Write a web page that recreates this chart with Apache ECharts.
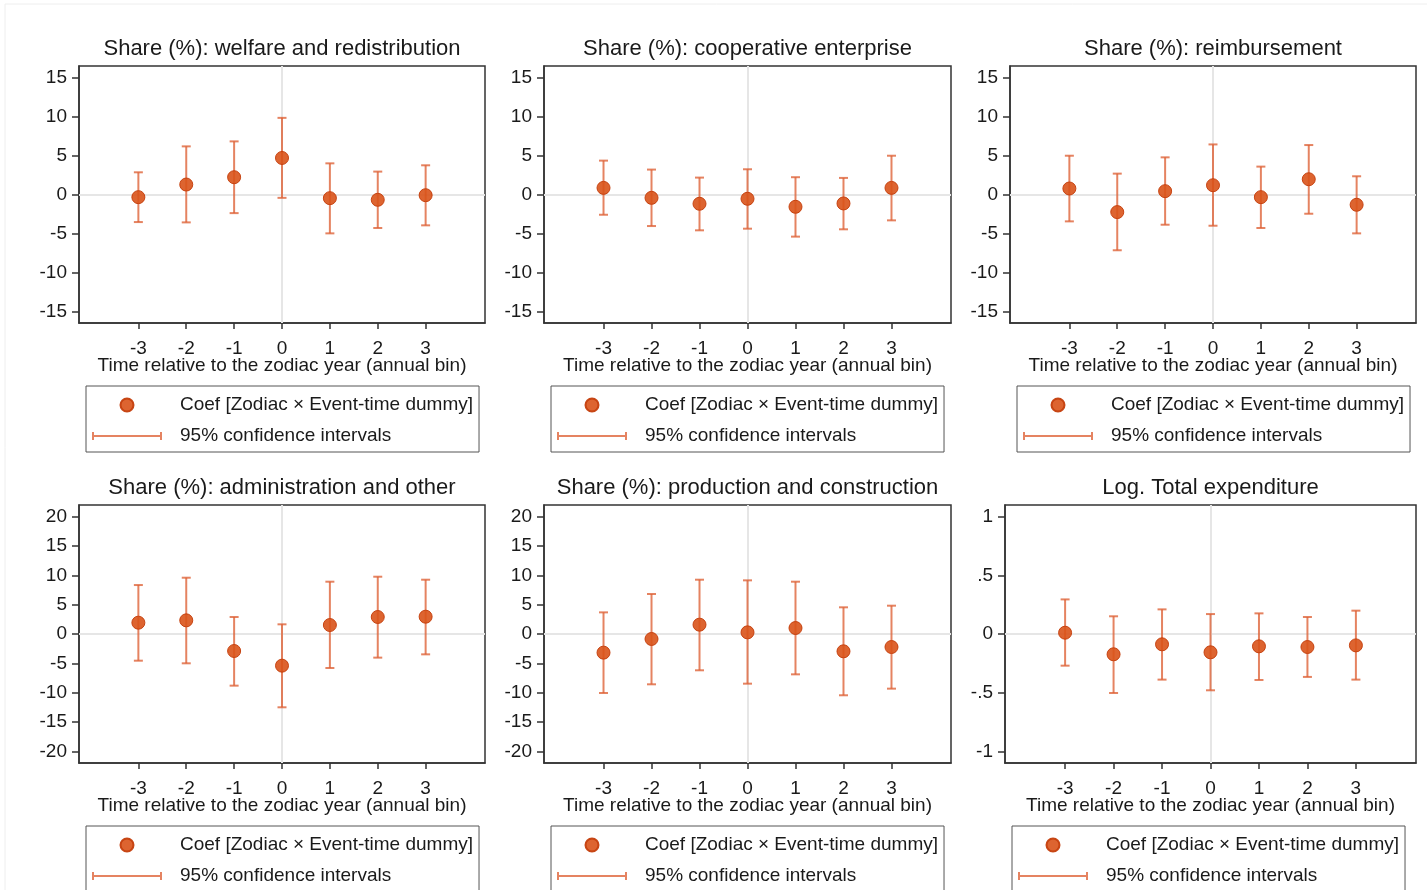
<!DOCTYPE html>
<html>
<head>
<meta charset="utf-8">
<title>Event-study coefficients by spending category</title>
<script src="https://cdn.jsdelivr.net/npm/echarts@6/dist/echarts.min.js"></script>
<style>
  html, body { margin: 0; padding: 0; background: #ffffff; }
  #chart { width: 1427px; height: 890px; }
</style>
</head>
<body>
<div id="chart"></div>
<script>
// Event time (years relative to the zodiac year)
const eventTimes = [-3, -2, -1, 0, 1, 2, 3];

// Panel titles
const panelTitles = [
  'Share (%): welfare and redistribution',
  'Share (%): cooperative enterprise',
  'Share (%): reimbursement',
  'Share (%): administration and other',
  'Share (%): production and construction',
  'Log. Total expenditure'
];

// Point estimates and 95% confidence bounds, one triple of arrays per panel
const welfareCoef  = [-0.34, 1.28, 2.22, 4.69, -0.47, -0.68, -0.09];
const welfareLower = [-3.54, -3.58, -2.39, -0.43, -4.99, -4.30, -3.96];
const welfareUpper = [2.85, 6.18, 6.82, 9.84, 4.00, 2.94, 3.75];

const cooperativeCoef  = [0.85, -0.43, -1.19, -0.55, -1.58, -1.15, 0.85];
const cooperativeLower = [-2.60, -4.05, -4.60, -4.39, -5.41, -4.47, -3.32];
const cooperativeUpper = [4.35, 3.20, 2.17, 3.24, 2.22, 2.13, 4.98];

const reimburseCoef  = [0.77, -2.26, 0.43, 1.19, -0.34, 1.96, -1.32];
const reimburseLower = [-3.45, -7.16, -3.88, -4.01, -4.30, -2.47, -4.99];
const reimburseUpper = [4.98, 2.68, 4.77, 6.43, 3.58, 6.35, 2.34];

const adminCoef  = [1.93, 2.33, -2.90, -5.40, 1.53, 2.90, 2.95];
const adminLower = [-4.55, -5.00, -8.81, -12.50, -5.80, -4.03, -3.47];
const adminUpper = [8.35, 9.60, 2.90, 1.65, 8.92, 9.77, 9.26];

const productionCoef  = [-3.18, -0.85, 1.59, 0.28, 1.02, -2.95, -2.22];
const productionLower = [-10.06, -8.58, -6.19, -8.47, -6.88, -10.45, -9.32];
const productionUpper = [3.69, 6.82, 9.26, 9.15, 8.92, 4.55, 4.83];

const logTotalCoef  = [0.011, -0.173, -0.088, -0.156, -0.105, -0.111, -0.097];
const logTotalLower = [-0.270, -0.503, -0.389, -0.480, -0.392, -0.366, -0.389];
const logTotalUpper = [0.295, 0.151, 0.210, 0.170, 0.176, 0.145, 0.199];

// Y-axis tick labels
const yTicksShare15 = [-15, -10, -5, 0, 5, 10, 15];
const yTicksShare20 = [-20, -15, -10, -5, 0, 5, 10, 15, 20];
const yTicksLog = [-1, -0.5, 0, 0.5, 1];

// Legend / axis texts
const coefName = 'Coef [Zodiac \u00d7 Event-time dummy]';
const ciName = '95% confidence intervals';
const xAxisTitle = 'Time relative to the zodiac year (annual bin)';

// ---- drawing ----
const FONT = "'Liberation Sans', Arial, Helvetica, sans-serif";
const TEXT_COLOR = '#1a1a1a';
const FRAME = '#333333';
const MARKER_FILL = 'rgba(217,83,25,0.9)';
const MARKER_EDGE = 'rgba(196,62,12,0.95)';
const CI_COLOR = 'rgba(222,96,52,0.78)';
const ZERO_LINE = '#e6e6e6';

const panels = [
  { coef: welfareCoef,     lo: welfareLower,     hi: welfareUpper,     ticks: yTicksShare15 },
  { coef: cooperativeCoef, lo: cooperativeLower, hi: cooperativeUpper, ticks: yTicksShare15 },
  { coef: reimburseCoef,   lo: reimburseLower,   hi: reimburseUpper,   ticks: yTicksShare15 },
  { coef: adminCoef,       lo: adminLower,       hi: adminUpper,       ticks: yTicksShare20 },
  { coef: productionCoef,  lo: productionLower,  hi: productionUpper,  ticks: yTicksShare20 },
  { coef: logTotalCoef,    lo: logTotalLower,    hi: logTotalUpper,    ticks: yTicksLog }
];

// plot-area boxes (left, top, width, height)
const boxes = [
  [79, 66, 406, 257], [544, 66, 407, 257], [1010, 66, 406, 257],
  [79, 505, 406, 258], [544, 505, 407, 258], [1005, 505, 411, 258]
];

// Stata-style numbers: drop the leading zero (.5, -.5)
function fmtTick(v) {
  if (v === 0) return '0';
  const s = String(Math.abs(v)).replace(/^0\./, '.');
  return (v < 0 ? '-' : '') + s;
}

function renderCI(params, api) {
  const x = api.value(0);
  const top = api.coord([x, api.value(2)]);
  const bot = api.coord([x, api.value(1)]);
  const half = 4.5;
  const style = { stroke: CI_COLOR, lineWidth: 2, fill: null };
  return {
    type: 'group',
    children: [
      { type: 'line', shape: { x1: top[0], y1: top[1], x2: bot[0], y2: bot[1] }, style },
      { type: 'line', shape: { x1: top[0] - half, y1: top[1], x2: top[0] + half, y2: top[1] }, style },
      { type: 'line', shape: { x1: bot[0] - half, y1: bot[1], x2: bot[0] + half, y2: bot[1] }, style }
    ]
  };
}

const ciIcon = 'path://M0,3.1h70v1.8h-70z M0,0h2v8h-2z M68,0h2v8h-2z';

const grid = [], xAxis = [], yAxis = [], series = [], title = [], legend = [];

panels.forEach((p, i) => {
  const [l, t, w, h] = boxes[i];
  const maxTick = Math.max(...p.ticks);
  const range = maxTick * 1.1;

  grid.push({
    left: l, top: t, width: w, height: h,
    show: true, borderColor: FRAME, borderWidth: 1.5, backgroundColor: 'transparent'
  });

  xAxis.push({
    type: 'value', gridIndex: i, min: -4.24, max: 4.24, position: 'bottom',
    axisLine: { show: true, onZero: false, lineStyle: { color: FRAME, width: 1.5 } },
    axisTick: { show: true, customValues: eventTimes, length: 6, lineStyle: { color: FRAME, width: 1.5 } },
    axisLabel: { customValues: eventTimes, margin: 16, fontSize: 19, color: TEXT_COLOR, fontFamily: FONT, formatter: fmtTick },
    splitLine: { show: false },
    name: xAxisTitle, nameLocation: 'middle', nameGap: 33, nameMoveOverlap: false,
    nameTextStyle: { fontSize: 19, color: TEXT_COLOR, fontFamily: FONT }
  });

  yAxis.push({
    type: 'value', gridIndex: i, min: -range, max: range, position: 'left',
    axisLine: { show: true, onZero: false, lineStyle: { color: FRAME, width: 1.5 } },
    axisTick: { show: true, customValues: p.ticks, length: 7, lineStyle: { color: FRAME, width: 1.5 } },
    axisLabel: { customValues: p.ticks, margin: 12, fontSize: 19, color: TEXT_COLOR, fontFamily: FONT, formatter: fmtTick },
    splitLine: { show: false }
  });

  title.push({
    text: panelTitles[i], left: l + w / 2, top: t - 28, textAlign: 'center', padding: 0,
    textStyle: { fontSize: 22, fontWeight: 'normal', color: TEXT_COLOR, fontFamily: FONT }
  });

  legend.push({
    left: l + 7, top: t + h + 63, height: 70, orient: 'vertical', itemGap: 11,
    itemWidth: 70, itemHeight: 13, padding: [9, 6, 6, 6],
    borderColor: '#555', borderWidth: 1, backgroundColor: '#fff',
    selectedMode: false,
    textStyle: { fontSize: 19, lineHeight: 20, color: TEXT_COLOR, fontFamily: FONT, padding: [0, 0, 0, 13] },
    data: [{ name: coefName, icon: 'circle' }, { name: ciName, icon: ciIcon }]
  });

  const ciData = eventTimes.map((x, k) => [x, p.lo[k], p.hi[k]]);
  const ptData = eventTimes.map((x, k) => [x, p.coef[k]]);

  // reference lines at zero (drawn under the estimates)
  series.push({
    type: 'line', xAxisIndex: i, yAxisIndex: i, data: [], silent: true, z: 1,
    markLine: {
      z: 1, silent: true, symbol: ['none', 'none'], label: { show: false },
      lineStyle: { color: ZERO_LINE, width: 2, type: 'solid' },
      emphasis: { disabled: true },
      data: [{ xAxis: 0 }, { yAxis: 0 }]
    }
  });

  series.push({
    name: ciName, type: 'custom', xAxisIndex: i, yAxisIndex: i, z: 3,
    itemStyle: { color: CI_COLOR },
    encode: { x: 0, y: [1, 2] },
    renderItem: renderCI,
    data: ciData
  });

  series.push({
    name: coefName, type: 'scatter', xAxisIndex: i, yAxisIndex: i, z: 4,
    symbol: 'circle', symbolSize: 13,
    itemStyle: { color: MARKER_FILL, borderColor: MARKER_EDGE, borderWidth: 1, opacity: 1 },
    data: ptData
  });
});

const chart = echarts.init(document.getElementById('chart'), null, { renderer: 'canvas' });
chart.setOption({
  animation: false,
  backgroundColor: '#ffffff',
  textStyle: { fontFamily: FONT },
  graphic: [{
    type: 'rect', silent: true, z: -1,
    shape: { x: 5, y: 4, width: 1500, height: 1000 },
    style: { fill: null, stroke: '#eeeeee', lineWidth: 1 }
  }],
  title, grid, xAxis, yAxis, legend, series
});
</script>
</body>
</html>
